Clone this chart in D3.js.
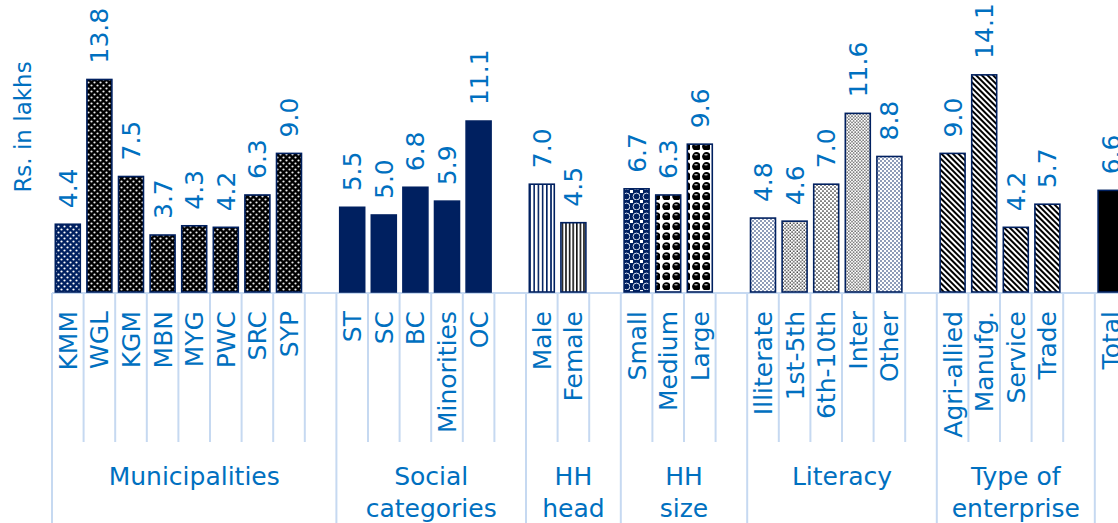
<!DOCTYPE html>
<html>
<head>
<meta charset="utf-8">
<script src="https://cdn.jsdelivr.net/npm/d3@7"></script>
<style>
html,body{margin:0;padding:0;background:#fff;overflow:hidden;}
svg{display:block;}
text{font-family:"DejaVu Sans",sans-serif;fill:#0070C0;}
</style>
</head>
<body>
<svg id="chart" width="1118" height="523"></svg>
<script>
// ---- data ----
const groupNames = ["Municipalities", "Social categories", "HH head", "HH size", "Literacy", "Type of enterprise", ""];
const groupLabelLines = [["Municipalities"], ["Social", "categories"], ["HH", "head"], ["HH", "size"], ["Literacy"], ["Type of", "enterprise"], [""]];
const municipalities = ["KMM", "WGL", "KGM", "MBN", "MYG", "PWC", "SRC", "SYP"];
const municipalityValues = [4.4, 13.8, 7.5, 3.7, 4.3, 4.2, 6.3, 9.0];
const socialCategories = ["ST", "SC", "BC", "Minorities", "OC"];
const socialValues = [5.5, 5.0, 6.8, 5.9, 11.1];
const hhHead = ["Male", "Female"];
const hhHeadValues = [7.0, 4.5];
const hhSize = ["Small", "Medium", "Large"];
const hhSizeValues = [6.7, 6.3, 9.6];
const literacy = ["Illiterate", "1st-5th", "6th-10th", "Inter", "Other"];
const literacyValues = [4.8, 4.6, 7.0, 11.6, 8.8];
const enterprise = ["Agri-allied", "Manufg.", "Service", "Trade"];
const enterpriseValues = [9.0, 14.1, 4.2, 5.7];
const totalCategory = ["Total"];
const totalValues = [6.6];

// fill style per category (kept separate from the data)
const fillStyle = {
  "KMM": "dotsNavy", "WGL": "dotsBlack", "KGM": "dotsBlack", "MBN": "dotsBlack", "MYG": "dotsBlack",
  "PWC": "dotsBlack", "SRC": "dotsBlack", "SYP": "dotsBlack",
  "ST": "solidNavy", "SC": "solidNavy", "BC": "solidNavy", "Minorities": "solidNavy", "OC": "solidNavy",
  "Male": "vNavy", "Female": "vBlack",
  "Small": "sphNavy", "Medium": "sphBlack", "Large": "sphBlack2",
  "Illiterate": "fineNavy", "1st-5th": "fineBlack", "6th-10th": "fineBlack2", "Inter": "fineBlack3", "Other": "fineNavy",
  "Agri-allied": "diag", "Manufg.": "diag", "Service": "diag", "Trade": "diag",
  "Total": "solidBlack"
};

const groupCats = [municipalities, socialCategories, hhHead, hhSize, literacy, enterprise, totalCategory];
const groupVals = [municipalityValues, socialValues, hhHeadValues, hhSizeValues, literacyValues, enterpriseValues, totalValues];

// build slots (each group followed by an empty slot except the last)
const slots = [];
const groupSpans = [];
groupCats.forEach((cats, gi) => {
  const start = slots.length;
  cats.forEach((c, i) => slots.push({id: "s" + slots.length, cat: c, value: groupVals[gi][i], group: gi}));
  if (gi < groupCats.length - 1) slots.push({id: "s" + slots.length, cat: "", value: null, group: gi});
  groupSpans.push({gi, start, end: slots.length});
});

// ---- layout ----
const NAVY = "#002060", TXT = "#0070C0", AXIS = "#C6D9F1";
const svg = d3.select("#chart");
const x0 = 52, step = 31.6;
const x = d3.scaleBand().domain(slots.map(d => d.id)).range([x0, x0 + step * slots.length])
  .paddingInner(0.21).paddingOuter(0.105);
const y = d3.scaleLinear().domain([0, 16]).range([292, 292 - 16 * 15.4]);

// ---- patterns ----
const defs = svg.append("defs");
function pat(id, w, h, bg, draw, transform) {
  const p = defs.append("pattern").attr("id", id).attr("patternUnits", "userSpaceOnUse")
    .attr("width", w).attr("height", h);
  if (transform) p.attr("patternTransform", transform);
  p.append("rect").attr("width", w).attr("height", h).attr("fill", bg);
  draw(p);
}
pat("dotsNavy", 6, 6, NAVY, p => {
  [[1.5, 1.5], [4.5, 4.5]].forEach(c => p.append("circle").attr("cx", c[0]).attr("cy", c[1]).attr("r", 1.1).attr("fill", "#fff"));
});
pat("dotsBlack", 6, 6, "#000", p => {
  [[1.5, 1.5], [4.5, 4.5]].forEach(c => p.append("circle").attr("cx", c[0]).attr("cy", c[1]).attr("r", 1.1).attr("fill", "#eee"));
});
pat("vNavy", 4.2, 4, "#fff", p => p.append("rect").attr("x", 0).attr("width", 1.6).attr("height", 4).attr("fill", NAVY));
pat("vBlack", 3.6, 4, "#fff", p => p.append("rect").attr("x", 0).attr("width", 1.6).attr("height", 4).attr("fill", "#111"));
pat("sphNavy", 10, 10, NAVY, p => {
  p.append("rect").attr("x", 0).attr("y", 0).attr("width", 3).attr("height", 3).attr("fill", "#fff");
  p.append("circle").attr("cx", 6.5).attr("cy", 6.5).attr("r", 3.4).attr("fill", "none").attr("stroke", "#d8e0ef").attr("stroke-width", 1);
});
pat("sphBlack", 10, 10, "#fff", p => {
  p.append("circle").attr("cx", 6.5).attr("cy", 6.5).attr("r", 4.2).attr("fill", "#000");
  p.append("ellipse").attr("cx", 6).attr("cy", 4.8).attr("rx", 1.8).attr("ry", 0.8).attr("fill", "#aaa");
});
pat("sphBlack2", 10, 10, "#fff", p => {
  p.append("circle").attr("cx", 6.5).attr("cy", 6.5).attr("r", 4.4).attr("fill", "#000");
  p.append("ellipse").attr("cx", 6).attr("cy", 4.8).attr("rx", 1.8).attr("ry", 0.8).attr("fill", "#bbb");
});
pat("fineNavy", 4, 4, "#fff", p => {
  [[1, 1], [3, 3]].forEach(c => p.append("circle").attr("cx", c[0]).attr("cy", c[1]).attr("r", 0.8).attr("fill", NAVY));
});
pat("fineBlack", 3.5, 3.5, "#fff", p => {
  [[1, 1], [2.75, 2.75]].forEach(c => p.append("circle").attr("cx", c[0]).attr("cy", c[1]).attr("r", 0.7).attr("fill", "#000"));
});
pat("fineBlack2", 4, 4, "#fff", p => {
  [[1, 1], [3, 3]].forEach(c => p.append("circle").attr("cx", c[0]).attr("cy", c[1]).attr("r", 0.85).attr("fill", "#222"));
});
pat("fineBlack3", 3.2, 3.2, "#fff", p => {
  [[0.8, 0.8], [2.4, 2.4]].forEach(c => p.append("circle").attr("cx", c[0]).attr("cy", c[1]).attr("r", 0.7).attr("fill", "#222"));
});
pat("diag", 4, 10, "#fff", p => p.append("rect").attr("width", 2).attr("height", 10).attr("fill", "#000"), "rotate(-45)");
const fillFor = k => ({solidNavy: NAVY, solidBlack: "#000"})[k] || `url(#${k})`;

// ---- axis lines ----
const lines = svg.append("g");
lines.append("line").attr("x1", x0).attr("x2", 1118).attr("y1", 293).attr("y2", 293)
  .attr("stroke", AXIS).attr("stroke-width", 2);
const groupBounds = new Set();
groupSpans.forEach(g => { groupBounds.add(g.start); groupBounds.add(g.end); });
d3.range(slots.length + 1).forEach(i => {
  const xx = x0 + i * x.step();
  lines.append("line").attr("x1", xx).attr("x2", xx).attr("y1", 293)
    .attr("y2", groupBounds.has(i) ? 523 : 442)
    .attr("stroke", AXIS).attr("stroke-width", 2);
});

// ---- bars ----
const barData = slots.filter(d => d.value != null);
svg.append("g").selectAll("rect").data(barData).join("rect")
  .attr("x", d => x(d.id)).attr("width", x.bandwidth())
  .attr("y", d => y(d.value)).attr("height", d => y(0) - y(d.value))
  .attr("fill", d => fillFor(fillStyle[d.cat]))
  .attr("stroke", NAVY).attr("stroke-width", 1.6);

// ---- value labels ----
svg.append("g").selectAll("text").data(barData).join("text")
  .attr("transform", d => `translate(${x(d.id) + x.bandwidth() / 2},${y(d.value) - 16}) rotate(-90)`)
  .attr("dy", "0.36em").attr("text-anchor", "start")
  .style("font-size", "25px")
  .text(d => d.value.toFixed(1));

// ---- category labels ----
svg.append("g").selectAll("text").data(slots.filter(d => d.cat)).join("text")
  .attr("transform", d => `translate(${x(d.id) + x.bandwidth() / 2},311) rotate(-90)`)
  .attr("dy", "0.36em").attr("text-anchor", "end")
  .style("font-size", "25px")
  .text(d => d.cat);

// ---- group labels ----
const gl = svg.append("g");
groupSpans.forEach(g => {
  const cx = x0 + (g.start + g.end) / 2 * x.step();
  const t = gl.append("text").attr("x", cx).attr("y", 485).attr("text-anchor", "middle").style("font-size", "25px");
  groupLabelLines[g.gi].forEach((ln, i) => t.append("tspan").attr("x", cx).attr("dy", i === 0 ? 0 : 32).text(ln));
});

// ---- y axis title ----
svg.append("text").attr("transform", "translate(23,127) rotate(-90)")
  .attr("text-anchor", "middle").attr("dy", "0.36em").style("font-size", "23px").text("Rs. in lakhs");
</script>
</body>
</html>
